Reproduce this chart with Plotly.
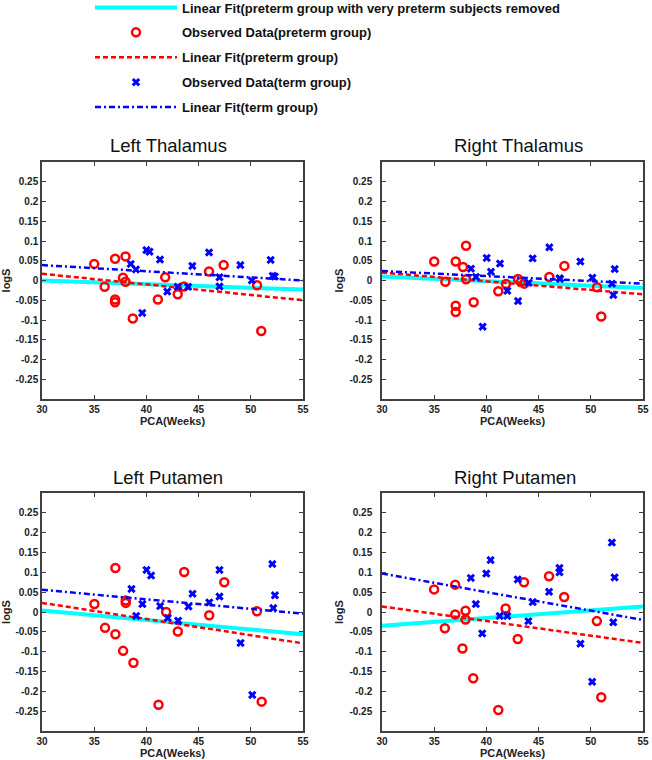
import plotly.graph_objects as go

# ---------------- data ----------------
panel_titles = ["Left Thalamus", "Right Thalamus", "Left Putamen", "Right Putamen"]
x_ticks = [30, 35, 40, 45, 50, 55]
y_tick_vals = [-0.25, -0.2, -0.15, -0.1, -0.05, 0, 0.05, 0.1, 0.15, 0.2, 0.25]
y_tick_text = ["-0.25", "-0.2", "-0.15", "-0.1", "-0.05", "0", "0.05", "0.1", "0.15", "0.2", "0.25"]
fit_x = [30, 55]

# Left Thalamus
lt_pre_x = [35.0, 36.0, 37.0, 37.0, 37.0, 38.0, 37.76, 38.0, 38.7, 41.1, 41.8, 43.0, 43.6, 46.0, 47.4, 50.6, 51.0]
lt_pre_y = [0.042, -0.016, 0.055, -0.048, -0.055, 0.061, 0.007, -0.003, -0.096, -0.048, 0.008, -0.035, -0.015, 0.023, 0.039, -0.012, -0.128]
lt_term_x = [38.5, 39.0, 39.6, 40.0, 40.3, 41.3, 42.0, 43.0, 44.0, 44.4, 46.0, 47.0, 47.0, 49.0, 50.1, 51.9, 52.1, 52.3]
lt_term_y = [0.042, 0.028, -0.082, 0.077, 0.073, 0.053, -0.028, -0.016, -0.016, 0.037, 0.071, 0.008, -0.015, 0.039, 0.0, 0.052, 0.012, 0.010]
lt_fit_removed = [0.0, -0.023]
lt_fit_pre = [0.017, -0.050]
lt_fit_term = [0.039, 0.0]

# Right Thalamus
rt_pre_x = [35.0, 36.07, 37.06, 37.06, 37.06, 37.76, 38.05, 38.05, 38.78, 41.14, 41.88, 43.03, 43.3, 43.63, 46.03, 47.47, 50.6, 51.0]
rt_pre_y = [0.048, -0.003, 0.048, -0.064, -0.080, 0.034, 0.088, 0.003, -0.055, -0.027, -0.009, 0.004, -0.004, -0.008, 0.009, 0.037, -0.017, -0.091]
rt_term_x = [38.52, 39.0, 39.64, 40.03, 40.44, 41.3, 42.0, 43.03, 44.05, 44.43, 46.03, 47.02, 47.05, 49.0, 50.15, 52.03, 52.16, 52.29]
rt_term_y = [0.030, 0.009, -0.117, 0.057, 0.022, 0.043, -0.026, -0.052, -0.006, 0.056, 0.084, 0.006, 0.004, 0.048, 0.007, -0.008, -0.037, 0.029]
rt_fit_removed = [0.010, -0.019]
rt_fit_pre = [0.020, -0.035]
rt_fit_term = [0.024, -0.008]

# Left Putamen
lp_pre_x = [35.02, 36.04, 37.03, 37.03, 37.77, 38.02, 38.02, 38.76, 41.16, 41.89, 43.01, 43.62, 46.02, 47.46, 50.59, 51.04]
lp_pre_y = [0.020, -0.040, 0.111, -0.056, -0.098, 0.029, 0.023, -0.128, -0.234, 0.0, -0.049, 0.101, -0.008, 0.075, 0.002, -0.226]
lp_term_x = [38.57, 39.02, 39.62, 40.01, 40.45, 41.32, 42.05, 43.04, 44.03, 44.42, 46.02, 47.0, 47.0, 49.02, 50.14, 52.06, 52.15, 52.31]
lp_term_y = [0.058, -0.010, 0.020, 0.106, 0.092, 0.015, -0.015, -0.022, 0.014, 0.046, 0.024, 0.106, 0.039, -0.078, -0.209, 0.121, 0.010, 0.042]
lp_fit_removed = [0.004, -0.056]
lp_fit_pre = [0.023, -0.079]
lp_fit_term = [0.056, -0.004]

# Right Putamen
rp_pre_x = [34.99, 36.02, 37.01, 37.01, 37.71, 38.0, 38.0, 38.74, 41.14, 41.84, 43.0, 43.6, 46.0, 47.45, 50.58, 51.0]
rp_pre_y = [0.057, -0.041, 0.069, -0.006, -0.092, 0.003, -0.019, -0.167, -0.247, 0.009, -0.068, 0.075, 0.090, 0.038, -0.023, -0.215]
rp_term_x = [38.51, 38.99, 39.6, 39.99, 40.4, 41.27, 42.0, 43.0, 44.02, 44.44, 46.0, 47.0, 47.0, 49.01, 50.13, 52.02, 52.15, 52.28]
rp_term_y = [0.086, 0.020, -0.054, 0.097, 0.131, -0.010, -0.010, 0.082, -0.023, 0.025, 0.051, 0.111, 0.100, -0.080, -0.176, 0.175, -0.026, 0.087]
rp_fit_removed = [-0.035, 0.014]
rp_fit_pre = [0.014, -0.078]
rp_fit_term = [0.097, -0.020]

panels = [
    (lt_pre_x, lt_pre_y, lt_term_x, lt_term_y, lt_fit_removed, lt_fit_pre, lt_fit_term),
    (rt_pre_x, rt_pre_y, rt_term_x, rt_term_y, rt_fit_removed, rt_fit_pre, rt_fit_term),
    (lp_pre_x, lp_pre_y, lp_term_x, lp_term_y, lp_fit_removed, lp_fit_pre, lp_fit_term),
    (rp_pre_x, rp_pre_y, rp_term_x, rp_term_y, rp_fit_removed, rp_fit_pre, rp_fit_term),
]

legend_names = [
    "Linear Fit(preterm group with very preterm subjects removed",
    "Observed Data(preterm group)",
    "Linear Fit(preterm group)",
    "Observed Data(term group)",
    "Linear Fit(term group)",
]

# ---------------- styles ----------------
W, H = 652, 760
FONT = "Liberation Sans, Arial, sans-serif"
CYAN = "#00FFFF"
RED = "#FF0000"
BLUE = "#0000FF"
AXIS_COLOR = "#404040"

x_domains = [[42 / W, 303 / W], [382 / W, 643 / W]]
y_domains = [[1 - 399 / H, 1 - 162 / H], [1 - 731 / H, 1 - 493 / H]]
title_pos = [(168, 145), (518, 145), (168, 477), (515, 477)]

fig = go.Figure()

for i, (px, py, tx, ty, f_rem, f_pre, f_term) in enumerate(panels):
    suffix = "" if i == 0 else str(i + 1)
    xa, ya = "x" + suffix, "y" + suffix
    show = i == 0
    fig.add_trace(go.Scatter(
        x=fit_x, y=f_rem, mode="lines", xaxis=xa, yaxis=ya,
        line=dict(color=CYAN, width=4), name=legend_names[0],
        showlegend=show, legendgroup="g0"))
    fig.add_trace(go.Scatter(
        x=px, y=py, mode="markers", xaxis=xa, yaxis=ya,
        marker=dict(symbol="circle-open", size=8, color=RED, line=dict(width=2.5, color=RED)),
        name=legend_names[1], showlegend=show, legendgroup="g1"))
    fig.add_trace(go.Scatter(
        x=fit_x, y=f_pre, mode="lines", xaxis=xa, yaxis=ya,
        line=dict(color=RED, width=2.5, dash="5px,3px"), name=legend_names[2],
        showlegend=show, legendgroup="g2"))
    fig.add_trace(go.Scatter(
        x=tx, y=ty, mode="markers", xaxis=xa, yaxis=ya,
        marker=dict(symbol="x", size=7.5, color=BLUE, line=dict(width=0)),
        name=legend_names[3], showlegend=show, legendgroup="g3"))
    fig.add_trace(go.Scatter(
        x=fit_x, y=f_term, mode="lines", xaxis=xa, yaxis=ya,
        line=dict(color=BLUE, width=2.5, dash="6px,3px,2px,3px"), name=legend_names[4],
        showlegend=show, legendgroup="g4"))

tick_font = dict(family=FONT, size=10, color="#222222", weight="bold")
layout = dict(
    width=W, height=H,
    margin=dict(l=0, r=0, t=0, b=0, autoexpand=False),
    paper_bgcolor="white", plot_bgcolor="white",
    font=dict(family=FONT, color="#222222"),
    showlegend=True,
    legend=dict(x=90 / W, y=1 + 7.5 / H, xanchor="left", yanchor="top",
                font=dict(family=FONT, size=13, color="#111111", weight="bold"),
                tracegroupgap=5, itemwidth=82, bgcolor="rgba(0,0,0,0)"),
    annotations=[],
)

for i in range(4):
    suffix = "" if i == 0 else str(i + 1)
    col, row = i % 2, i // 2
    layout["xaxis" + suffix] = dict(
        domain=x_domains[col], anchor="y" + suffix, range=[30, 55], automargin=False,
        tickvals=x_ticks, ticks="inside", ticklen=4, tickcolor=AXIS_COLOR,
        showline=True, linecolor=AXIS_COLOR, linewidth=1.5, mirror="ticks",
        showgrid=False, zeroline=False, tickfont=tick_font,
        title=dict(text="PCA(Weeks)", font=dict(family=FONT, size=11, color="#222222", weight="bold"), standoff=2),
    )
    layout["yaxis" + suffix] = dict(
        domain=y_domains[row], anchor="x" + suffix, range=[-0.3, 0.3], automargin=False,
        tickvals=y_tick_vals, ticktext=y_tick_text, ticks="inside", ticklen=4,
        tickcolor=AXIS_COLOR, showline=True, linecolor=AXIS_COLOR, linewidth=1.5,
        mirror="ticks", showgrid=False, zeroline=False, tickfont=tick_font,
        ticklabelstandoff=(0 if col == 0 else 6),
        title=dict(text="logS", font=dict(family=FONT, size=11, color="#222222", weight="bold"), standoff=4),
    )
    tx, ty = title_pos[i]
    layout["annotations"].append(dict(
        text=panel_titles[i], x=tx / W, y=1 - ty / H, xref="paper", yref="paper",
        xanchor="center", yanchor="middle", showarrow=False,
        font=dict(family=FONT, size=18.5, color="#111111")))

fig.update_layout(**layout)
fig.write_html("out.html", config={"displayModeBar": False},
               post_script="document.body.style.margin='0';")
